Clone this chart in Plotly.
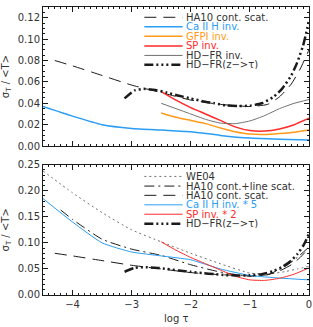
import plotly.graph_objects as go

# ---------------- data ----------------
# top panel
x_ha10 = [-4.3, -4.0, -3.5, -3.0, -2.5, -2.0, -1.5, -1.0, -0.7, -0.5, -0.3, -0.15, 0.0]
ha10_cont = [0.080, 0.075, 0.066, 0.057, 0.050, 0.043, 0.039, 0.037, 0.039, 0.046, 0.058, 0.072, 0.090]

x_caii = [-4.5, -4.0, -3.5, -3.0, -2.5, -2.0, -1.5, -1.0, -0.5, 0.0]
caii = [0.037, 0.028, 0.020, 0.0165, 0.015, 0.0135, 0.010, 0.0075, 0.0065, 0.0058]

x_inv = [-2.5, -2.25, -2.0, -1.75, -1.5, -1.25, -1.0, -0.75, -0.5, -0.25, 0.0]
gfpi = [0.031, 0.027, 0.024, 0.021, 0.017, 0.0135, 0.0112, 0.0108, 0.0117, 0.013, 0.015]
sp = [0.051, 0.043, 0.036, 0.030, 0.024, 0.018, 0.0145, 0.014, 0.016, 0.020, 0.026]
hdfr_inv = [0.040, 0.035, 0.030, 0.025, 0.0215, 0.021, 0.0235, 0.0285, 0.035, 0.040, 0.0435]

x_hdfr = [-3.12, -2.95, -2.8, -2.6, -2.4, -2.2, -2.0, -1.8, -1.6, -1.4, -1.2, -1.0,
          -0.8, -0.6, -0.45, -0.3, -0.2, -0.1, -0.05, 0.0]
hdfr_ztau = [0.0446, 0.052, 0.0535, 0.0525, 0.050, 0.047, 0.0445, 0.042, 0.040, 0.038,
             0.0375, 0.0378, 0.040, 0.046, 0.054, 0.066, 0.078, 0.094, 0.105, 0.118]

# bottom panel
x_we04 = [-4.5, -4.0, -3.5, -3.0, -2.5, -2.0, -1.5, -1.0, -0.7, -0.4, -0.2, 0.0]
we04 = [0.238, 0.196, 0.158, 0.125, 0.102, 0.080, 0.060, 0.042, 0.040, 0.045, 0.050, 0.055]

x_ha10_line = [-4.2, -4.0, -3.5, -3.0, -2.5, -2.0, -1.5, -1.0, -0.7, -0.4, -0.2, 0.0]
ha10_line = [0.163, 0.145, 0.107, 0.088, 0.076, 0.058, 0.044, 0.036, 0.039, 0.055, 0.072, 0.092]

caii_scale = 5
sp_scale = 2

xticks = [-4, -3, -2, -1, 0]
xtick_labels = ["\u22124", "\u22123", "\u22122", "\u22121", "0"]
ytick_top = [0.00, 0.02, 0.04, 0.06, 0.08, 0.10, 0.12]
ytick_bot = [0.00, 0.05, 0.10, 0.15, 0.20, 0.25]

legend_top = ["HA10 cont. scat.", "Ca II H inv.", "GFPI inv.", "SP inv.", "HD\u2212FR inv.",
              "HD\u2212FR(z\u2212>\u03c4)"]
legend_bot = ["WE04", "HA10 cont.+line scat.", "HA10 cont. scat.", "Ca II H inv. * 5",
              "SP inv. * 2", "HD\u2212FR(z\u2212>\u03c4)"]

# ---------------- styles ----------------
BLACK = "#1a1a1a"
GRAY = "#707070"
BLUE = "#2a9df4"
ORANGE = "#ff9a1a"
RED = "#ff2a2a"
TXT = "#333333"
DASH_LONG = "12px,7px"
DASH_3DOT = "9px,3px,2px,3px,2px,3px,2px,3px"
DASH_DOT = "10px,4px,2px,4px"
DOT = "2px,3px"
FONT = "DejaVu Sans"

top_styles = [
    dict(color=BLACK, width=1, dash=DASH_LONG),
    dict(color=BLUE, width=1.5, dash="solid"),
    dict(color=ORANGE, width=1.5, dash="solid"),
    dict(color=RED, width=1.5, dash="solid"),
    dict(color=GRAY, width=1, dash="solid"),
    dict(color=BLACK, width=2.5, dash=DASH_3DOT),
]
bot_styles = [
    dict(color=GRAY, width=1, dash=DOT),
    dict(color=BLACK, width=1, dash=DASH_DOT),
    dict(color=BLACK, width=1, dash=DASH_LONG),
    dict(color=BLUE, width=1, dash="solid"),
    dict(color=RED, width=1, dash="solid"),
    dict(color=BLACK, width=2.5, dash=DASH_3DOT),
]
top_text_colors = [TXT, BLUE, ORANGE, RED, TXT, TXT]
bot_text_colors = [TXT, TXT, TXT, BLUE, RED, TXT]

fig = go.Figure()

top_series = [(x_ha10, ha10_cont), (x_caii, caii), (x_inv, gfpi), (x_inv, sp),
              (x_inv, hdfr_inv), (x_hdfr, hdfr_ztau)]
for (xs, ys), st in zip(top_series, top_styles):
    fig.add_trace(go.Scatter(x=xs, y=ys, mode="lines", line=dict(shape="spline", smoothing=0.5, **st),
                             xaxis="x", yaxis="y", showlegend=False, hoverinfo="skip"))

bot_series = [(x_we04, we04), (x_ha10_line, ha10_line), (x_ha10, ha10_cont),
              (x_caii, [v * caii_scale for v in caii]), (x_inv, [v * sp_scale for v in sp]),
              (x_hdfr, hdfr_ztau)]
for (xs, ys), st in zip(bot_series, bot_styles):
    fig.add_trace(go.Scatter(x=xs, y=ys, mode="lines", line=dict(shape="spline", smoothing=0.5, **st),
                             xaxis="x2", yaxis="y2", showlegend=False, hoverinfo="skip"))

# ---------------- manual legends ----------------
shapes = []
annotations = []
LX0, LX1, LXT = 0.381, 0.525, 0.535  # domain fractions
top_rows = [0.926, 0.858, 0.789, 0.720, 0.652, 0.584]
bot_rows = [0.910, 0.836, 0.765, 0.692, 0.620, 0.546]
for rows, labels, styles, tcols, xr, yr in [
        (top_rows, legend_top, top_styles, top_text_colors, "x domain", "y domain"),
        (bot_rows, legend_bot, bot_styles, bot_text_colors, "x2 domain", "y2 domain")]:
    for yy, lab, st, tc in zip(rows, labels, styles, tcols):
        shapes.append(dict(type="line", xref=xr, yref=yr, x0=LX0, x1=LX1, y0=yy, y1=yy,
                           line=dict(color=st["color"], width=st["width"], dash=st["dash"])))
        annotations.append(dict(xref=xr, yref=yr, x=LXT, y=yy, text=lab, showarrow=False,
                                xanchor="left", yanchor="middle", height=9, valign="middle",
                                borderpad=0,
                                font=dict(family=FONT, size=10, color=tc)))

annotations.append(dict(xref="paper", yref="paper", x=0.5, y=-0.082, text="log \u03c4",
                        showarrow=False, xanchor="center", yanchor="middle",
                        font=dict(family=FONT, size=10, color=TXT)))

axis_common = dict(showline=True, linecolor=BLACK, linewidth=1, mirror="ticks",
                   ticks="inside", tickcolor=BLACK, ticklen=5, tickwidth=1,
                   showgrid=False, zeroline=False,
                   tickfont=dict(family=FONT, size=10, color=TXT))

ytitle = dict(text="\u03c3<sub>T</sub> / &lt;T&gt;", font=dict(family=FONT, size=10, color=TXT),
              standoff=6)

fig.update_layout(
    width=313, height=327,
    margin=dict(l=43, r=4, t=1, b=32),
    paper_bgcolor="white", plot_bgcolor="white",
    showlegend=False,
    shapes=shapes, annotations=annotations,
    xaxis=dict(domain=[0, 1], range=[-4.5, 0], anchor="y", tickvals=xticks,
               showticklabels=False,
               minor=dict(ticks="inside", ticklen=2, dtick=0.1, tickcolor=BLACK),
               **axis_common),
    yaxis=dict(domain=[0.517, 1.0], range=[0, 0.13], anchor="x", tickvals=ytick_top,
               ticktext=[f"{v:.2f}" for v in ytick_top],
               minor=dict(ticks="inside", ticklen=2, dtick=0.005, tickcolor=BLACK),
               title=ytitle, **axis_common),
    xaxis2=dict(domain=[0, 1], range=[-4.5, 0], anchor="y2", tickvals=xticks,
                ticktext=xtick_labels,
                minor=dict(ticks="inside", ticklen=2, dtick=0.1, tickcolor=BLACK),
                **axis_common),
    yaxis2=dict(domain=[0, 0.4524], range=[0, 0.25], anchor="x2", tickvals=ytick_bot,
                ticktext=[f"{v:.2f}" for v in ytick_bot],
                minor=dict(ticks="inside", ticklen=2, dtick=0.01, tickcolor=BLACK),
                title=ytitle, **axis_common),
)

fig.write_html("out.html", config={"displayModeBar": False},
               post_script="document.body.style.margin='0';document.body.style.overflow='hidden';")
